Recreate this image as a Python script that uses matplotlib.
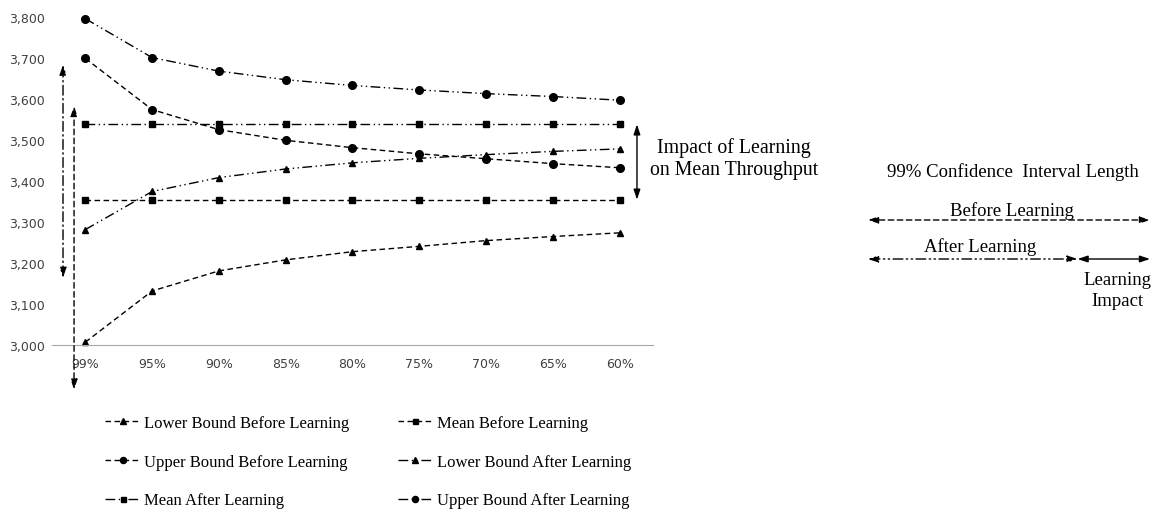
import matplotlib.pyplot as plt
from matplotlib.ticker import FuncFormatter

# values
levels = ['99%', '95%', '90%', '85%', '80%', '75%', '70%', '65%', '60%']
lower_before = [3007, 3132, 3181, 3208, 3228, 3241, 3255, 3265, 3274]
mean_before = [3355, 3355, 3355, 3355, 3355, 3355, 3355, 3355, 3355]
upper_before = [3700, 3575, 3526, 3500, 3482, 3467, 3455, 3443, 3433]
lower_after = [3282, 3375, 3409, 3430, 3445, 3456, 3465, 3473, 3479]
mean_after = [3539, 3539, 3539, 3539, 3539, 3539, 3539, 3539, 3539]
upper_after = [3797, 3702, 3669, 3648, 3634, 3623, 3614, 3607, 3598]

W, H = 1151, 510
serif = 'Liberation Serif'
dashed = (0, (4, 2.5))
dashdotdot = (0, (7, 2.5, 1, 2.5, 1, 2.5))
dashdot = (0, (7, 2.5, 1, 2.5))

fig = plt.figure(figsize=(W / 100, H / 100), dpi=100)
ax = fig.add_axes([52 / W, 1 - 346 / H, (653 - 52) / W, (346 - 18.5) / H])

x = list(range(len(levels)))
ax.plot(x, lower_before, color='black', lw=1, ls=dashed, marker='^', ms=5,
        label='Lower Bound Before Learning', clip_on=False)
ax.plot(x, upper_before, color='black', lw=1, ls=dashed, marker='o', ms=5.5,
        label='Upper Bound Before Learning', clip_on=False)
ax.plot(x, mean_after, color='black', lw=1, ls=dashdotdot, marker='s', ms=4.5,
        label='Mean After Learning', clip_on=False)
ax.plot(x, mean_before, color='black', lw=1, ls=dashed, marker='s', ms=4.5,
        label='Mean Before Learning', clip_on=False)
ax.plot(x, lower_after, color='black', lw=1, ls=dashdotdot, marker='^', ms=5,
        label='Lower Bound After Learning', clip_on=False)
ax.plot(x, upper_after, color='black', lw=1, ls=dashdotdot, marker='o', ms=5.5,
        label='Upper Bound After Learning', clip_on=False)

ax.set_xlim(-0.5, len(levels) - 0.5)
ax.set_ylim(3000, 3800)
ax.set_xticks(x)
ax.set_xticklabels(levels)
ax.set_yticks(range(3000, 3801, 100))
ax.yaxis.set_major_formatter(FuncFormatter(lambda v, p: f'{int(v):,}'))
ax.tick_params(length=0, labelsize=9, labelcolor='#404040')
ax.tick_params(axis='x', pad=9)
ax.tick_params(axis='y', pad=5)
for s in ['top', 'right', 'left']:
    ax.spines[s].set_visible(False)
ax.spines['bottom'].set_color('#a6a6a6')

# 99% interval arrows on the left
head = '<|-|>,head_length=0.6,head_width=0.2'
ax.annotate('', xy=(-0.335, 3685), xytext=(-0.335, 3164),
            arrowprops=dict(arrowstyle=head, ls=dashdot, lw=1, color='black',
                            shrinkA=0, shrinkB=0, mutation_scale=10),
            annotation_clip=False)
ax.annotate('', xy=(-0.17, 3584), xytext=(-0.17, 2891),
            arrowprops=dict(arrowstyle=head, ls=dashed, lw=1, color='black',
                            shrinkA=0, shrinkB=0, mutation_scale=10),
            annotation_clip=False)

# impact on mean
ax.annotate('', xy=(8.26, mean_after[-1]), xytext=(8.26, mean_before[-1]),
            arrowprops=dict(arrowstyle=head, lw=1, color='black',
                            shrinkA=0, shrinkB=0, mutation_scale=10),
            annotation_clip=False)
fig.text(734 / W, 1 - 159 / H, 'Impact of Learning\non Mean Throughput',
         ha='center', va='center', fontsize=14.3, family=serif, linespacing=1.2)

# confidence interval length panel
ci_before = upper_before[0] - lower_before[0]
ci_after = upper_after[0] - lower_after[0]
px_per_unit = 282 / ci_before
x0 = 868
fig.text(1013 / W, 1 - 172 / H, '99% Confidence  Interval Length',
         ha='center', va='center', fontsize=13.5, family=serif)
fig.text(1012 / W, 1 - 211 / H, 'Before Learning',
         ha='center', va='center', fontsize=13.5, family=serif)
fig.text(980 / W, 1 - 247 / H, 'After Learning',
         ha='center', va='center', fontsize=13.5, family=serif)
fig.text(1117 / W, 1 - 291 / H, 'Learning\nImpact',
         ha='center', va='center', fontsize=13.5, family=serif, linespacing=1.3)

x_before = x0 + ci_before * px_per_unit
x_after = x0 + ci_after * px_per_unit
ax.annotate('', xy=(x_before, H - 221), xytext=(x0, H - 221),
            xycoords='figure pixels', textcoords='figure pixels',
            arrowprops=dict(arrowstyle=head, ls=dashed, lw=1, color='black',
                            shrinkA=0, shrinkB=0, mutation_scale=10))
ax.annotate('', xy=(x_after, H - 260), xytext=(x0, H - 260),
            xycoords='figure pixels', textcoords='figure pixels',
            arrowprops=dict(arrowstyle=head, ls=dashdotdot, lw=1, color='black',
                            shrinkA=0, shrinkB=0, mutation_scale=10))
ax.annotate('', xy=(x_before, H - 260), xytext=(x_after, H - 260),
            xycoords='figure pixels', textcoords='figure pixels',
            arrowprops=dict(arrowstyle=head, lw=1, color='black',
                            shrinkA=0, shrinkB=0, mutation_scale=10))

fig.legend(loc='upper left', bbox_to_anchor=(105 / W, 1 - 416 / H), ncol=2,
           frameon=False, prop={'family': serif, 'size': 12}, borderpad=0,
           borderaxespad=0, handlelength=2.1, handletextpad=0.25,
           columnspacing=2.9, labelspacing=1.36, markerscale=0.8)

fig.savefig('out.png', dpi=100)
